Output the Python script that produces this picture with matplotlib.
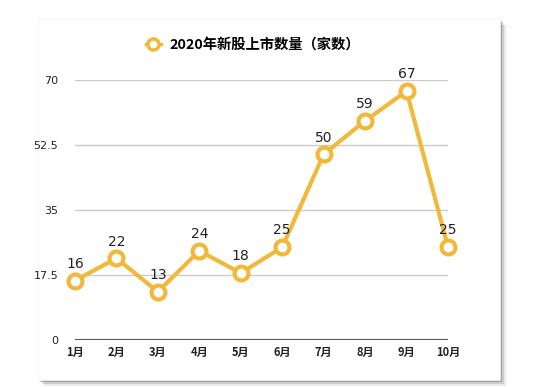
import matplotlib.pyplot as plt
import matplotlib.patches as patches

plt.rcParams['font.family'] = ['Noto Sans CJK SC', 'DejaVu Sans']

months = ['1月', '2月', '3月', '4月', '5月', '6月', '7月', '8月', '9月', '10月']
counts = [16, 22, 13, 24, 18, 25, 50, 59, 67, 25]
yticks = [0, 17.5, 35, 52.5, 70]
ytick_labels = ['0', '17.5', '35', '52.5', '70']
title = '2020年新股上市数量（家数）'

color = '#F0B93C'
W, H = 550, 387

fig = plt.figure(figsize=(5.5, 3.87), dpi=100)
fig.patch.set_facecolor('white')

# card with a soft shadow
for off, a in [(6, 0.12), (4, 0.2), (2, 0.35)]:
    fig.patches.append(patches.Rectangle((38 / W + off / W, 1 - 380 / H - off / H), 462 / W, 361 / H,
                                         transform=fig.transFigure, facecolor='#555555', alpha=a,
                                         edgecolor='none', zorder=-3))
fig.patches.append(patches.Rectangle((38 / W, 1 - 380 / H), 462 / W, 361 / H,
                                     transform=fig.transFigure, facecolor='white',
                                     edgecolor='#f0f0f0', lw=0.5, zorder=-2))

ax = fig.add_axes([75 / W, 1 - 340 / H, (448 - 75) / W, (340 - 80) / H])
ax.set_facecolor('none')
x = list(range(len(months)))
line, = ax.plot(x, counts, color=color, lw=3, marker='o', markersize=10,
                markerfacecolor='white', markeredgecolor=color, markeredgewidth=3,
                clip_on=False, zorder=3, label=title)

for xi, v in zip(x, counts):
    ax.annotate(str(v), (xi, v), xytext=(0, 7), textcoords='offset points',
                ha='center', va='bottom', fontsize=10, color='#222222',
                family=['DejaVu Sans'])

ax.set_xlim(0, len(months) - 1)
ax.set_ylim(0, 70)
ax.set_yticks(yticks)
ax.set_yticklabels(ytick_labels, fontsize=8, color='#222222', family=['DejaVu Sans'])
ax.set_xticks(x)
ax.set_xticklabels(months, fontsize=8, fontweight='bold', color='#222222')
ax.tick_params(axis='both', length=0)
ax.tick_params(axis='y', pad=12)
ax.tick_params(axis='x', pad=4)
for yt in yticks[1:]:
    ax.axhline(yt, color='#cccccc', lw=1, zorder=1)
ax.axhline(0, color='#555555', lw=1.5, zorder=2)
for s in ax.spines.values():
    s.set_visible(False)

leg = fig.legend(handles=[line], loc='center', bbox_to_anchor=(253 / W, 1 - 45 / H),
                 frameon=False, handlelength=1.0, handletextpad=0.6,
                 prop={'size': 10.3, 'weight': 'bold'})
leg.legend_handles[0].set_linewidth(2.5)
leg.legend_handles[0].set_markersize(8)
leg.legend_handles[0].set_markeredgewidth(2.5)

fig.savefig('out.png', dpi=100)
